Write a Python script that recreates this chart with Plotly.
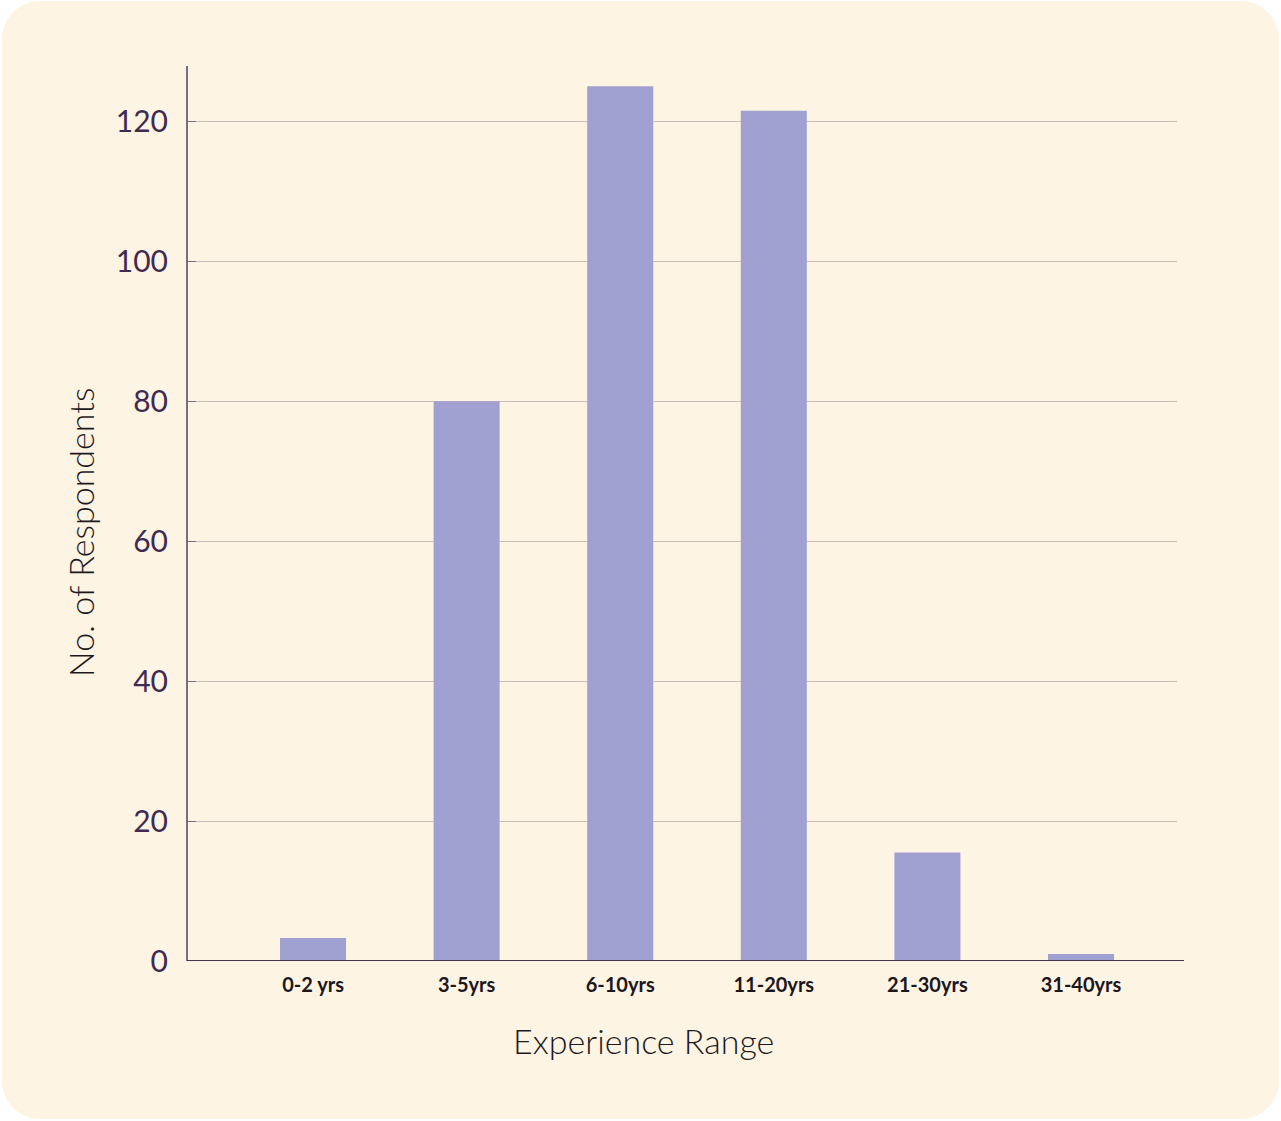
import plotly.graph_objects as go

# Survey data: respondents per experience bracket
categories = ["0-2 yrs", "3-5yrs", "6-10yrs", "11-20yrs", "21-30yrs", "31-40yrs"]
respondents = [3.3, 80, 125, 121.5, 15.5, 1]
y_ticks = [0, 20, 40, 60, 80, 100, 120]

W, H = 1281, 1121
L, R, T, B = 188, 104, 66, 160
PW, PH = W - L - R, H - T - B

BG = "#FEF4E4"
BAR = "#A0A1D1"
INK = "#3F2B52"


def px(x):
    return (x - L) / PW


def py(y):
    return (H - B - y) / PH


def rounded_rect(x0, y0, x1, y1, r):
    k = 0.45 * r
    pts = [
        f"M {px(x0 + r)},{py(y0)}",
        f"L {px(x1 - r)},{py(y0)}",
        f"C {px(x1 - k)},{py(y0)} {px(x1)},{py(y0 + k)} {px(x1)},{py(y0 + r)}",
        f"L {px(x1)},{py(y1 - r)}",
        f"C {px(x1)},{py(y1 - k)} {px(x1 - k)},{py(y1)} {px(x1 - r)},{py(y1)}",
        f"L {px(x0 + r)},{py(y1)}",
        f"C {px(x0 + k)},{py(y1)} {px(x0)},{py(y1 - k)} {px(x0)},{py(y1 - r)}",
        f"L {px(x0)},{py(y0 + r)}",
        f"C {px(x0)},{py(y0 + k)} {px(x0 + k)},{py(y0)} {px(x0 + r)},{py(y0)}",
        "Z",
    ]
    return " ".join(pts)


fig = go.Figure(
    go.Bar(
        x=categories,
        y=respondents,
        width=0.43,
        marker=dict(color=BAR, line=dict(width=0)),
        hoverinfo="x+y",
    )
)

fig.update_layout(
    width=W,
    height=H,
    margin=dict(l=L, r=R, t=T, b=B, autoexpand=False),
    paper_bgcolor="white",
    plot_bgcolor="rgba(0,0,0,0)",
    showlegend=False,
    font=dict(family="Lato", color=INK),
    xaxis=dict(
        type="category",
        range=[-0.814, 5.625],
        showgrid=False,
        showline=False,
        zeroline=False,
        ticks="",
        tickfont=dict(family="Lato", size=20, color="#1A171D", weight="bold"),
        ticklabelstandoff=10,
        fixedrange=True,
    ),
    yaxis=dict(
        range=[0, 127.9],
        tickvals=y_ticks,
        showgrid=True,
        gridcolor="#CBBDB8",
        gridwidth=1,
        zeroline=False,
        showline=True,
        linecolor="#7E6A87",
        linewidth=2,
        ticks="inside",
        ticklen=8,
        tickwidth=1,
        tickcolor="#7E6A87",
        tickfont=dict(family="Lato", size=30, color=INK),
        ticklabelstandoff=12,
        fixedrange=True,
    ),
    shapes=[
        dict(
            type="path",
            path=rounded_rect(2, 1, 1279, 1119, 38),
            xref="paper",
            yref="paper",
            fillcolor=BG,
            line=dict(width=0),
            layer="below",
        ),
        dict(
            type="line",
            xref="paper",
            yref="y",
            x0=px(187),
            x1=px(1184),
            y0=0,
            y1=0,
            line=dict(color="#47334F", width=2),
            layer="above",
        ),
    ],
    annotations=[
        dict(
            text="No. of Respondents",
            xref="paper",
            yref="paper",
            x=px(80),
            y=py(533),
            xanchor="center",
            yanchor="middle",
            textangle=-90,
            showarrow=False,
            font=dict(family="Lato", size=34, color="#1C1A1E", weight=300),
        ),
        dict(
            text="Experience Range",
            xref="paper",
            yref="paper",
            x=px(643),
            y=py(1040),
            xanchor="center",
            yanchor="middle",
            showarrow=False,
            font=dict(family="Lato", size=34, color="#1C1A1E", weight=300),
        ),
    ],
)

fig.write_html("out.html")
